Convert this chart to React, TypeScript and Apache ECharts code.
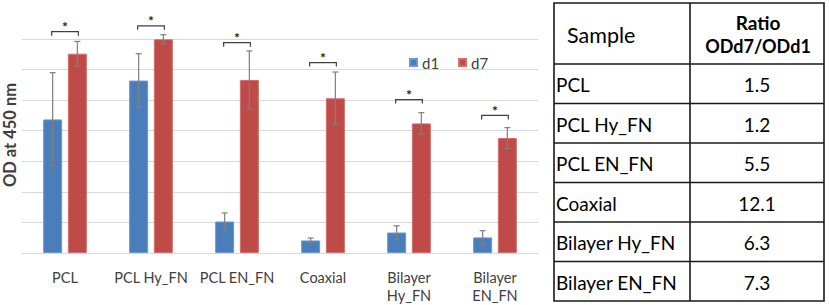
import React, { useEffect, useRef } from 'react';
import * as echarts from 'echarts';

// ---- data ----
const categories = ['PCL', 'PCL Hy_FN', 'PCL EN_FN', 'Coaxial', 'Bilayer\nHy_FN', 'Bilayer\nEN_FN'];
const seriesNames = ['d1', 'd7'];
const d1Values = [0.437, 0.564, 0.103, 0.041, 0.067, 0.051];
const d1Errors = [0.153, 0.088, 0.028, 0.008, 0.022, 0.022];
const d7Values = [0.652, 0.699, 0.566, 0.506, 0.424, 0.376];
const d7Errors = [0.040, 0.015, 0.095, 0.086, 0.035, 0.034];
const sigLevels = [0.724, 0.743, 0.688, 0.623, 0.502, 0.450];
const sigMarks = ['*', '*', '*', '*', '*', '*'];
const yMin = 0;
const yMax = 0.7;
const yInterval = 0.1;

const tableHeaderSample = 'Sample';
const tableHeaderRatio = ['Ratio', 'ODd7/ODd1'];
const tableSamples = ['PCL', 'PCL Hy_FN', 'PCL EN_FN', 'Coaxial', 'Bilayer Hy_FN', 'Bilayer EN_FN'];
const tableRatios = ['1.5', '1.2', '5.5', '12.1', '6.3', '7.3'];

// ---- style ----
const FONT = 'Lato, "Open Sans", sans-serif';
const BLUE = '#4a7ebb';
const RED = '#be4b48';
const TEXT = '#404040';
const BAR_W = 19;
const BAR_GAP = 0.3;
const OFFSET = (BAR_W + BAR_W * BAR_GAP) / 2;

function errorSeries(name: string, values: number[], errs: number[], offset: number) {
  return {
    type: 'custom',
    name: name + '-err',
    silent: true,
    z: 10,
    encode: { x: 0, y: 1 },
    data: values.map((v, i) => [i, v, errs[i]]),
    renderItem: (_p: any, api: any) => {
      const i = api.value(0);
      const v = api.value(1);
      const e = api.value(2);
      const hi = api.coord([i, v + e]);
      const lo = api.coord([i, v - e]);
      const x = hi[0] + offset;
      const cap = 3;
      const st = { stroke: '#7f7f7f', lineWidth: 1.2 };
      return {
        type: 'group',
        children: [
          { type: 'line', shape: { x1: x, y1: hi[1], x2: x, y2: lo[1] }, style: st },
          { type: 'line', shape: { x1: x - cap, y1: hi[1], x2: x + cap, y2: hi[1] }, style: st },
          { type: 'line', shape: { x1: x - cap, y1: lo[1], x2: x + cap, y2: lo[1] }, style: st },
        ],
      };
    },
  };
}

function buildTable() {
  const L = 554, R = 824, T = 3, B = 301, HB = 64, C = 690;
  const rowH = (B - HB) / tableSamples.length;
  const line = { stroke: '#1a1a1a', lineWidth: 1.6 };
  const els: any[] = [];
  els.push({ type: 'rect', shape: { x: L, y: T, width: R - L, height: B - T }, style: { fill: 'none', ...line } });
  els.push({ type: 'line', shape: { x1: C, y1: T, x2: C, y2: B }, style: line });
  els.push({ type: 'line', shape: { x1: L, y1: HB, x2: R, y2: HB }, style: line });
  for (let r = 1; r < tableSamples.length; r++) {
    const y = HB + r * rowH;
    els.push({ type: 'line', shape: { x1: L, y1: y, x2: R, y2: y }, style: line });
  }
  els.push({
    type: 'text',
    style: { text: tableHeaderSample, x: 567, y: 35, fill: '#000', font: `21.5px ${FONT}`, align: 'left', verticalAlign: 'middle', textAlign: 'left', textVerticalAlign: 'middle' },
  });
  tableHeaderRatio.forEach((t, k) => {
    els.push({
      type: 'text',
      style: { text: t, x: 758, y: 22 + k * 24, fill: '#000', font: `bold ${k === 0 ? 19 : 18}px ${FONT}`, align: 'center', verticalAlign: 'middle', textAlign: 'center', textVerticalAlign: 'middle' },
    });
  });
  tableSamples.forEach((s, r) => {
    const cy = HB + (r + 0.5) * rowH + 1;
    els.push({
      type: 'text',
      style: { text: s, x: 556, y: cy, fill: '#000', font: `19px ${FONT}`, align: 'left', verticalAlign: 'middle', textAlign: 'left', textVerticalAlign: 'middle' },
    });
    els.push({
      type: 'text',
      style: { text: tableRatios[r], x: 757, y: cy, fill: '#000', font: `19px ${FONT}`, align: 'center', verticalAlign: 'middle', textAlign: 'center', textVerticalAlign: 'middle' },
    });
  });
  return els;
}

export default function App() {
  const ref = useRef<HTMLDivElement>(null);
  useEffect(() => {
    if (!ref.current) return;
    const chart = echarts.init(ref.current, undefined, { renderer: 'svg' });
    chart.setOption({
      animation: false,
      backgroundColor: '#ffffff',
      textStyle: { fontFamily: FONT },
      grid: { left: 22, right: 291, top: 39, bottom: 52, containLabel: false },
      legend: {
        data: seriesNames,
        left: 404,
        top: 50,
        icon: 'rect',
        itemWidth: 7,
        itemHeight: 7,
        itemGap: 19,
        textStyle: { color: TEXT, fontSize: 15, fontFamily: FONT, padding: [0, 0, 0, 0] },
      },
      xAxis: {
        type: 'category',
        data: categories,
        axisTick: { show: false },
        axisLine: { show: true, lineStyle: { color: '#d9d9d9', width: 1 } },
        axisLabel: { color: TEXT, fontSize: 14.5, fontFamily: FONT, margin: 15, lineHeight: 18, interval: 0 },
      },
      yAxis: {
        type: 'value',
        min: yMin,
        max: yMax,
        interval: yInterval,
        axisLabel: { show: false },
        axisLine: { show: false },
        axisTick: { show: false },
        splitLine: { lineStyle: { color: '#d9d9d9', width: 1 } },
      },
      graphic: [
        {
          type: 'text',
          x: 10,
          y: 135,
          rotation: Math.PI / 2,
          style: { text: 'OD at 450 nm', fill: TEXT, font: `bold 16.5px ${FONT}`, align: 'center', verticalAlign: 'middle', textAlign: 'center', textVerticalAlign: 'middle' },
        },
        ...buildTable(),
      ],
      series: [
        {
          name: seriesNames[0],
          type: 'bar',
          data: d1Values,
          barWidth: BAR_W,
          barGap: `${BAR_GAP * 100}%`,
          itemStyle: { color: BLUE, borderColor: '#6b98d0', borderWidth: 1 },
        },
        {
          name: seriesNames[1],
          type: 'bar',
          data: d7Values,
          barWidth: BAR_W,
          barGap: `${BAR_GAP * 100}%`,
          itemStyle: { color: RED, borderColor: '#d26d6a', borderWidth: 1 },
        },
        errorSeries('d1', d1Values, d1Errors, -OFFSET),
        errorSeries('d7', d7Values, d7Errors, OFFSET),
        {
          type: 'custom',
          name: 'sig',
          silent: true,
          z: 10,
          encode: { x: 0, y: 1 },
          data: sigLevels.map((v, i) => [i, v]),
          renderItem: (_p: any, api: any) => {
            const i = api.value(0);
            const v = api.value(1);
            const p = api.coord([i, v]);
            const w = OFFSET + 1;
            const st = { stroke: '#404040', lineWidth: 1.2, fill: 'none' };
            return {
              type: 'group',
              children: [
                { type: 'polyline', shape: { points: [[p[0] - w, p[1] + 4], [p[0] - w, p[1]], [p[0] + w, p[1]], [p[0] + w, p[1] + 4]] }, style: st },
                { type: 'text', style: { text: sigMarks[i], x: p[0], y: p[1] - 5, fill: '#222', font: `bold 14px ${FONT}`, align: 'center', verticalAlign: 'middle' } },
              ],
            };
          },
        },
      ],
    });
    return () => chart.dispose();
  }, []);
  return <div ref={ref} style={{ position: 'absolute', left: 0, top: 0, width: 829, height: 305 }} />;
}
